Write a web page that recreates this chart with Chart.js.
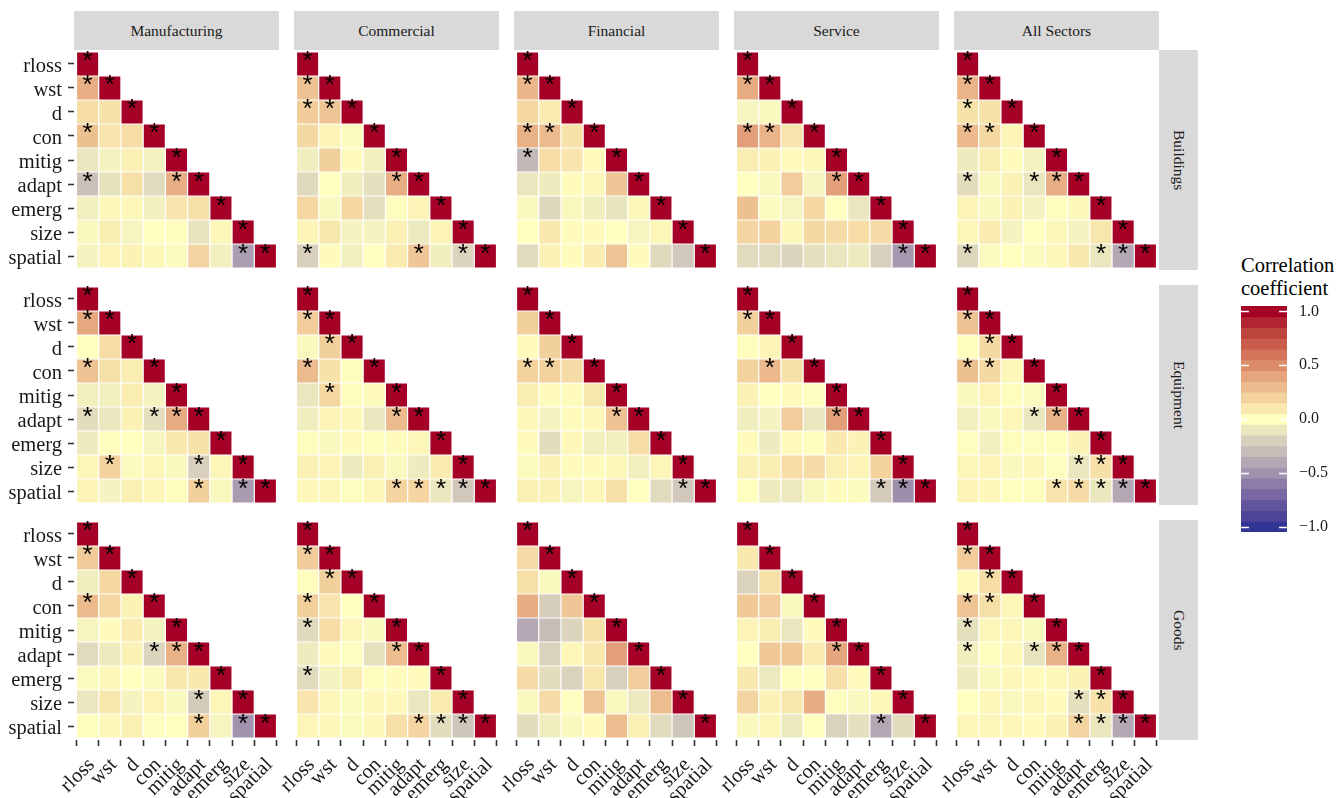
<!DOCTYPE html>
<html>
<head>
<meta charset="utf-8">
<script src="https://cdn.jsdelivr.net/npm/chart.js@4/dist/chart.umd.min.js"></script>
<style>
  html, body { margin: 0; padding: 0; background: #ffffff; }
  #page { position: relative; width: 1344px; height: 798px; overflow: hidden;
          font-family: 'Liberation Serif', 'Times New Roman', serif; }
  #page canvas { position: absolute; }
  .strip { position: absolute; background: #d9d9d9; color: #1a1a1a; font-size: 15.5px;
           display: flex; align-items: center; justify-content: center; }
  .strip.side { writing-mode: vertical-rl; }
  .legend-title { position: absolute; left: 1241px; top: 254px; font-size: 20.5px;
                  line-height: 23px; color: #000; }
</style>
</head>
<body>
<div id="page">
  <div class="legend-title">Correlation<br>coefficient</div>
</div>
<script>
// ---- variables, facets and colour scale -------------------------------------
const variables = ['rloss', 'wst', 'd', 'con', 'mitig', 'adapt', 'emerg', 'size', 'spatial'];
const sectors = ['Manufacturing', 'Commercial', 'Financial', 'Service', 'All Sectors'];
const assets = ['Buildings', 'Equipment', 'Goods'];

// colour bar steps (-1 .. 1) and the fill at each step
const legendSteps = [-1.0, -0.9, -0.8, -0.7, -0.6, -0.5, -0.4, -0.3, -0.2, -0.1, 0.0,
                     0.1, 0.2, 0.3, 0.4, 0.5, 0.6, 0.7, 0.8, 0.9, 1.0];
const fillScale = ['#313695', '#4D4499', '#63559D', '#7867A2', '#8C7CA7', '#A193AD',
                   '#B4A8B4', '#C6BDB9', '#D8D0BC', '#EAE6BE', '#FFFFBF', '#F9E9AF',
                   '#F3D29E', '#ECBB8D', '#E5A47C', '#DD8C6B', '#D4745A', '#CA5C4B',
                   '#BE443E', '#B22632', '#A50026'];
const legendBreaks = [1.0, 0.5, 0.0, -0.5, -1.0];
const legendLabels = ['1.0', '0.5', '0.0', '\u22120.5', '\u22121.0'];

// ---- lower-triangle correlations, row by row (wst; d; con; mitig; adapt; emerg; size; spatial)
// sig = 1 marks a significant coefficient (*)
const buildings_manufacturing = [0.35, 0.15, 0.13, 0.28, 0.12, 0.15, -0.10, -0.05, 0.07, -0.05,
  -0.28, -0.12, 0.14, -0.15, 0.35, -0.06, 0.03, 0.04, -0.06, 0.12, 0.14,
  -0.03, 0.08, -0.04, 0.00, 0.01, -0.11, 0.04, -0.05, 0.05, 0.06, 0.03, -0.02, 0.19, -0.06, -0.45];
const buildings_manufacturing_sig = [1, 0, 0, 1, 0, 0, 0, 0, 0, 0,
  1, 0, 0, 0, 1, 0, 0, 0, 0, 0, 0, 0, 0, 0, 0, 0, 0, 0, 0, 0, 0, 0, 0, 0, 0, 1];

const buildings_commercial = [0.27, 0.23, 0.26, 0.17, 0.05, -0.02, -0.07, 0.21, 0.02, -0.06,
  -0.16, 0.00, -0.07, -0.13, 0.35, 0.18, -0.03, 0.18, -0.13, 0.01, 0.05,
  0.05, 0.11, -0.05, -0.05, 0.07, -0.09, 0.05, -0.20, 0.02, -0.06, 0.00, 0.09, 0.25, -0.07, -0.18];
const buildings_commercial_sig = [1, 1, 1, 0, 0, 0, 0, 0, 0, 0,
  0, 0, 0, 0, 1, 0, 0, 0, 0, 0, 0, 0, 0, 0, 0, 0, 0, 0, 1, 0, 0, 0, 0, 1, 0, 1];

const buildings_financial = [0.32, 0.18, 0.09, 0.34, 0.30, 0.13, -0.32, 0.15, 0.12, 0.02,
  -0.10, -0.08, 0.02, 0.03, 0.25, -0.03, -0.17, -0.03, -0.07, -0.11, 0.04,
  0.00, 0.10, 0.02, 0.02, 0.00, -0.04, 0.04, -0.15, 0.06, 0.02, 0.09, 0.26, 0.02, -0.16, -0.24];
const buildings_financial_sig = [1, 0, 0, 1, 1, 0, 1, 0, 0, 0,
  0, 0, 0, 0, 0, 0, 0, 0, 0, 0, 0, 0, 0, 0, 0, 0, 0, 0, 0, 0, 0, 0, 0, 0, 0, 0];

const buildings_service = [0.37, -0.04, -0.03, 0.42, 0.33, 0.12, 0.08, 0.06, 0.02, 0.03,
  0.00, -0.03, 0.22, -0.04, 0.42, 0.28, -0.02, -0.04, 0.18, 0.00, -0.10,
  0.19, 0.20, 0.03, 0.17, 0.16, 0.15, 0.16, -0.15, -0.15, -0.18, -0.13, -0.10, -0.09, -0.20, -0.48];
const buildings_service_sig = [1, 0, 0, 1, 1, 0, 0, 0, 0, 0,
  0, 0, 0, 0, 1, 0, 0, 0, 0, 0, 0, 0, 0, 0, 0, 0, 0, 0, 0, 0, 0, 0, 0, 0, 0, 1];

const buildings_all = [0.33, 0.13, 0.13, 0.31, 0.18, 0.05, -0.08, 0.08, 0.02, -0.05,
  -0.14, -0.03, 0.06, -0.10, 0.35, 0.05, -0.03, 0.06, -0.05, 0.01, 0.03,
  0.04, 0.09, -0.05, 0.00, 0.03, -0.05, 0.11, -0.17, -0.02, 0.00, -0.02, 0.03, 0.10, -0.10, -0.40];
const buildings_all_sig = [1, 1, 0, 1, 1, 0, 0, 0, 0, 0,
  1, 0, 0, 1, 1, 0, 0, 0, 0, 0, 0, 0, 0, 0, 0, 0, 0, 0, 1, 0, 0, 0, 0, 0, 1, 1];

const equipment_manufacturing = [0.38, 0.00, 0.15, 0.27, 0.14, 0.08, -0.06, -0.06, 0.08, -0.05,
  -0.14, -0.10, 0.06, -0.13, 0.37, -0.08, 0.01, 0.00, -0.04, 0.10, 0.13,
  0.04, 0.20, -0.02, 0.04, -0.03, -0.20, 0.04, 0.05, -0.05, 0.07, 0.04, 0.01, 0.21, -0.03, -0.46];
const equipment_manufacturing_sig = [1, 0, 0, 1, 0, 0, 0, 0, 0, 0,
  1, 0, 0, 1, 1, 0, 0, 0, 0, 0, 0, 0, 1, 0, 0, 0, 1, 0, 0, 0, 0, 0, 0, 1, 0, 1];

const equipment_commercial = [0.22, -0.03, 0.21, 0.30, 0.13, 0.01, -0.10, 0.18, 0.01, 0.02,
  -0.07, 0.05, 0.03, -0.10, 0.30, 0.01, -0.03, 0.02, 0.01, 0.02, 0.04,
  0.07, 0.05, -0.08, 0.07, -0.03, -0.08, 0.09, 0.03, 0.04, -0.01, 0.04, 0.19, 0.19, -0.10, -0.24];
const equipment_commercial_sig = [1, 0, 1, 1, 0, 0, 0, 1, 0, 0,
  0, 0, 0, 0, 1, 0, 0, 0, 0, 0, 0, 0, 0, 0, 0, 0, 0, 0, 0, 0, 0, 0, 1, 1, 1, 1];

const equipment_financial = [0.21, 0.02, 0.21, 0.20, 0.20, 0.16, 0.08, 0.02, 0.02, 0.11,
  0.03, -0.05, 0.02, 0.03, 0.27, 0.02, -0.14, 0.03, -0.06, -0.06, 0.15,
  -0.02, 0.06, 0.02, 0.02, 0.04, -0.06, 0.04, 0.07, 0.06, -0.04, 0.04, 0.14, 0.00, -0.15, -0.24];
const equipment_financial_sig = [0, 0, 0, 1, 1, 0, 0, 0, 0, 0,
  0, 0, 0, 0, 1, 0, 0, 0, 0, 0, 0, 0, 0, 0, 0, 0, 0, 0, 0, 0, 0, 0, 0, 0, 0, 1];

const equipment_service = [0.21, 0.01, 0.05, 0.20, 0.31, 0.13, 0.06, 0.00, 0.02, -0.01,
  -0.07, -0.05, 0.22, -0.10, 0.42, 0.02, -0.08, 0.02, 0.01, 0.10, 0.06,
  0.07, 0.08, 0.15, 0.16, 0.07, 0.05, 0.20, 0.00, -0.08, -0.09, -0.03, 0.02, -0.02, -0.23, -0.52];
const equipment_service_sig = [1, 0, 0, 0, 1, 0, 0, 0, 0, 0,
  0, 0, 0, 0, 1, 0, 0, 0, 0, 0, 0, 0, 0, 0, 0, 0, 0, 0, 0, 0, 0, 0, 0, 0, 1, 1];

const equipment_all = [0.27, 0.01, 0.17, 0.28, 0.17, 0.04, -0.03, 0.05, 0.01, -0.02,
  -0.06, -0.03, 0.04, -0.10, 0.34, -0.01, -0.06, 0.01, -0.01, 0.01, 0.06,
  0.04, 0.05, -0.03, 0.03, -0.01, -0.10, 0.14, 0.05, 0.03, 0.00, 0.01, 0.12, 0.16, -0.10, -0.40];
const equipment_all_sig = [1, 0, 1, 1, 1, 0, 0, 0, 0, 0,
  0, 0, 0, 1, 1, 0, 0, 0, 0, 0, 0, 0, 0, 0, 0, 0, 1, 1, 0, 0, 0, 0, 1, 1, 1, 1];

const goods_manufacturing = [0.23, -0.07, 0.18, 0.30, 0.18, 0.06, -0.04, 0.02, 0.09, -0.05,
  -0.15, -0.08, 0.06, -0.18, 0.34, -0.02, 0.03, 0.00, -0.02, 0.10, 0.10,
  -0.10, 0.11, -0.05, 0.05, -0.03, -0.22, 0.04, 0.01, 0.03, 0.07, -0.01, 0.00, 0.21, -0.04, -0.50];
const goods_manufacturing_sig = [1, 0, 0, 1, 0, 0, 0, 0, 0, 0,
  0, 0, 0, 1, 1, 0, 0, 0, 0, 0, 0, 0, 0, 0, 0, 0, 1, 0, 0, 0, 0, 0, 0, 1, 0, 1];

const goods_commercial = [0.23, 0.01, 0.21, 0.21, 0.12, 0.00, -0.16, 0.15, 0.04, -0.03,
  -0.08, 0.02, -0.01, -0.12, 0.29, -0.15, -0.05, 0.08, 0.01, 0.02, 0.02,
  0.12, 0.03, -0.02, 0.03, 0.03, -0.10, 0.09, 0.04, 0.03, -0.02, 0.03, 0.14, 0.19, -0.14, -0.26];
const goods_commercial_sig = [1, 0, 1, 1, 0, 0, 1, 0, 0, 0,
  0, 0, 0, 0, 1, 1, 0, 0, 0, 0, 0, 0, 0, 0, 0, 0, 0, 0, 0, 0, 0, 0, 0, 1, 1, 1];

const goods_financial = [0.16, 0.14, -0.03, 0.36, -0.21, 0.25, -0.40, -0.30, -0.18, 0.13,
  -0.03, -0.19, 0.04, 0.10, 0.42, 0.16, -0.14, -0.19, 0.11, -0.20, 0.22,
  -0.03, 0.16, -0.01, 0.26, -0.03, -0.09, 0.29, -0.14, -0.07, -0.03, 0.02, 0.29, 0.07, -0.15, -0.26];
const goods_financial_sig = [0, 0, 0, 0, 0, 0, 0, 0, 0, 0,
  0, 0, 0, 0, 0, 0, 0, 0, 0, 0, 0, 0, 0, 0, 0, 0, 0, 0, 0, 0, 0, 0, 0, 0, 0, 0];

const goods_service = [0.10, -0.19, 0.14, 0.24, 0.22, -0.03, 0.05, 0.08, -0.10, 0.02,
  0.00, 0.24, 0.24, 0.09, 0.39, 0.10, -0.09, 0.01, 0.00, 0.14, 0.02,
  0.19, 0.06, 0.11, 0.36, 0.01, -0.03, 0.03, -0.03, 0.04, -0.09, 0.00, -0.19, -0.13, -0.40, -0.14];
const goods_service_sig = [0, 0, 0, 0, 0, 0, 0, 0, 0, 0,
  0, 0, 0, 0, 1, 0, 0, 0, 0, 0, 0, 0, 0, 0, 0, 0, 0, 0, 0, 0, 0, 0, 0, 0, 1, 0];

const goods_all = [0.22, 0.02, 0.15, 0.26, 0.14, 0.04, -0.13, 0.04, 0.04, -0.03,
  -0.07, 0.01, 0.03, -0.11, 0.34, -0.08, -0.03, 0.03, 0.02, 0.03, 0.06,
  0.00, 0.03, -0.03, 0.04, 0.02, -0.13, 0.13, 0.04, 0.04, 0.03, 0.02, 0.06, 0.19, -0.10, -0.40];
const goods_all_sig = [1, 0, 1, 1, 1, 0, 1, 0, 0, 0,
  1, 0, 0, 1, 1, 0, 0, 0, 0, 0, 0, 0, 0, 0, 0, 0, 1, 1, 0, 0, 0, 0, 0, 1, 1, 1];

// panel table: rows = asset type, columns = sector
const panelTable = [
  [[buildings_manufacturing, buildings_manufacturing_sig], [buildings_commercial, buildings_commercial_sig],
   [buildings_financial, buildings_financial_sig], [buildings_service, buildings_service_sig],
   [buildings_all, buildings_all_sig]],
  [[equipment_manufacturing, equipment_manufacturing_sig], [equipment_commercial, equipment_commercial_sig],
   [equipment_financial, equipment_financial_sig], [equipment_service, equipment_service_sig],
   [equipment_all, equipment_all_sig]],
  [[goods_manufacturing, goods_manufacturing_sig], [goods_commercial, goods_commercial_sig],
   [goods_financial, goods_financial_sig], [goods_service, goods_service_sig],
   [goods_all, goods_all_sig]]
];

// ---- layout ------------------------------------------------------------------
const PANEL_LEFT = 74, PANEL_STEP_X = 220, PANEL_W = 205;
const PANEL_TOP = 50, PANEL_STEP_Y = 235, PANEL_H = 220;
const Y_AXIS_W = 74, X_AXIS_H = 58, PAD = 40;
const FONT = "'Liberation Serif', 'Times New Roman', serif";
const STAR_FONT = "'Liberation Sans', Arial, sans-serif";
const page = document.getElementById('page');

function hexToRgb(h) {
  const n = parseInt(h.slice(1), 16);
  return [(n >> 16) & 255, (n >> 8) & 255, n & 255];
}
function fillFor(r) {
  const t = (r - legendSteps[0]) / (legendSteps[1] - legendSteps[0]);
  const k = Math.max(0, Math.min(Math.floor(t), fillScale.length - 2));
  const f = Math.max(0, Math.min(1, t - k));
  const a = hexToRgb(fillScale[k]), b = hexToRgb(fillScale[k + 1]);
  const c = a.map((v, i) => Math.round(v + (b[i] - v) * f));
  return `rgb(${c[0]},${c[1]},${c[2]})`;
}

function cellsFor(values, sig) {
  const cells = [];
  let k = 0;
  for (let i = 0; i < variables.length; i++) {
    for (let j = 0; j < i; j++) {
      cells.push({x: j + 0.5, y: [i, i + 1], r: values[k], s: sig[k]});
      k++;
    }
    cells.push({x: i + 0.5, y: [i, i + 1], r: 1, s: 1});
  }
  return cells;
}

// significance asterisks on top of the tiles
const starPlugin = {
  id: 'stars',
  afterDatasetsDraw(chart) {
    const {ctx, scales: {x, y}} = chart;
    ctx.save();
    ctx.fillStyle = '#000';
    ctx.font = `26px ${STAR_FONT}`;
    ctx.textAlign = 'center';
    ctx.textBaseline = 'alphabetic';
    for (const c of chart.data.datasets[0].data) {
      if (!c.s) continue;
      const cy = y.getPixelForValue((c.y[0] + c.y[1]) / 2);
      ctx.fillText('*', x.getPixelForValue(c.x), cy + 5.5);
    }
    ctx.restore();
  }
};

function addStrip(text, left, top, width, height, side) {
  const d = document.createElement('div');
  d.className = side ? 'strip side' : 'strip';
  d.style.left = left + 'px'; d.style.top = top + 'px';
  d.style.width = width + 'px'; d.style.height = height + 'px';
  d.textContent = text;
  page.appendChild(d);
}

function panelChart(row, col) {
  const showY = col === 0, showX = row === assets.length - 1;
  const yw = showY ? Y_AXIS_W : 0, xh = showX ? X_AXIS_H : 0;
  const canvas = document.createElement('canvas');
  canvas.width = PANEL_W + yw + 2 * PAD;
  canvas.height = PANEL_H + xh + 2 * PAD;
  canvas.style.left = (PANEL_LEFT + col * PANEL_STEP_X - yw - PAD) + 'px';
  canvas.style.top = (PANEL_TOP + row * PANEL_STEP_Y - PAD) + 'px';
  page.appendChild(canvas);
  const [values, sig] = panelTable[row][col];
  const tickFont = {family: FONT, size: 20.5};
  new Chart(canvas, {
    type: 'bar',
    data: {
      datasets: [{
        data: cellsFor(values, sig),
        backgroundColor: c => (c.raw ? fillFor(c.raw.r) : '#ffffff'),
        borderColor: '#ffffff',
        borderWidth: 0.6,
        borderSkipped: false,
        inflateAmount: 0,
        barPercentage: 1,
        categoryPercentage: 1
      }]
    },
    options: {
      responsive: false, animation: false, devicePixelRatio: 1, events: [],
      layout: {padding: PAD},
      plugins: {legend: {display: false}, tooltip: {enabled: false}},
      scales: {
        x: {
          type: 'linear', min: -0.1125, max: 9.1125, bounds: 'data', offset: false,
          display: showX,
          afterBuildTicks: s => { s.ticks = variables.map((v, i) => ({value: i + 0.5})); },
          afterFit: s => { if (showX) s.height = X_AXIS_H; },
          ticks: {autoSkip: false, maxRotation: 45, minRotation: 45, padding: 7, labelOffset: 4,
                  color: '#1a1a1a', font: tickFont, callback: (v, i) => variables[i]},
          grid: {drawOnChartArea: false, drawTicks: true, tickLength: 6,
                 tickColor: '#333333', tickWidth: 1.6},
          border: {display: false}
        },
        y: {
          type: 'linear', reverse: true, min: -0.083, max: 9.083, bounds: 'data',
          display: showY,
          afterBuildTicks: s => { s.ticks = variables.map((v, i) => ({value: i + 0.5})); },
          afterFit: s => { if (showY) s.width = Y_AXIS_W; },
          ticks: {autoSkip: false, maxRotation: 0, padding: 6, labelOffset: 2.5,
                  color: '#1a1a1a', font: tickFont, callback: (v, i) => variables[i]},
          grid: {drawOnChartArea: false, drawTicks: true, tickLength: 6,
                 tickColor: '#333333', tickWidth: 1.6},
          border: {display: false}
        }
      }
    },
    plugins: [starPlugin]
  });
}

// facet strips
sectors.forEach((s, c) => addStrip(s, PANEL_LEFT + c * PANEL_STEP_X, 11, PANEL_W, PANEL_TOP - 11, false));
assets.forEach((a, r) => addStrip(a, PANEL_LEFT + (sectors.length - 1) * PANEL_STEP_X + PANEL_W,
                                  PANEL_TOP + r * PANEL_STEP_Y, 39, PANEL_H, true));

for (let r = 0; r < assets.length; r++) {
  for (let c = 0; c < sectors.length; c++) panelChart(r, c);
}

// ---- colour bar legend --------------------------------------------------------
const barTicks = {
  id: 'barTicks',
  afterDatasetsDraw(chart) {
    const {ctx, chartArea: a, scales: {y}} = chart;
    ctx.save();
    ctx.strokeStyle = '#ffffff';
    ctx.lineWidth = 1.6;
    for (const v of legendBreaks) {
      const py = Math.round(y.getPixelForValue(v)) + 0.5;
      ctx.beginPath();
      ctx.moveTo(a.left, py); ctx.lineTo(a.left + 8, py);
      ctx.moveTo(a.right - 8, py); ctx.lineTo(a.right, py);
      ctx.stroke();
    }
    ctx.restore();
  }
};

(function legendChart() {
  const LEG_PAD = 30;
  const canvas = document.createElement('canvas');
  canvas.width = 46 + 60;
  canvas.height = 226 + 2 * LEG_PAD;
  canvas.style.left = '1241px';
  canvas.style.top = (306 - LEG_PAD) + 'px';
  page.appendChild(canvas);
  new Chart(canvas, {
    type: 'bar',
    data: {
      labels: ['bar'],
      datasets: [{
        data: legendSteps.map(v => ({x: 'bar', y: [v - 0.05, v + 0.05]})),
        backgroundColor: fillScale,
        borderWidth: 0, borderSkipped: false, inflateAmount: 0.4,
        barPercentage: 1, categoryPercentage: 1
      }]
    },
    options: {
      responsive: false, animation: false, devicePixelRatio: 1, events: [],
      layout: {padding: {top: LEG_PAD, bottom: LEG_PAD, left: 0, right: 0}},
      plugins: {legend: {display: false}, tooltip: {enabled: false}},
      scales: {
        x: {display: false},
        y: {
          position: 'right', min: -1.05, max: 1.05, bounds: 'data',
          afterBuildTicks: s => { s.ticks = legendBreaks.map(v => ({value: v})); },
          afterFit: s => { s.width = 60; },
          ticks: {padding: 12, color: '#1a1a1a', font: {family: FONT, size: 16},
                  callback: (v, i) => legendLabels[i]},
          grid: {display: false, drawTicks: false},
          border: {display: false}
        }
      }
    },
    plugins: [barTicks]
  });
})();
</script>
</body>
</html>
